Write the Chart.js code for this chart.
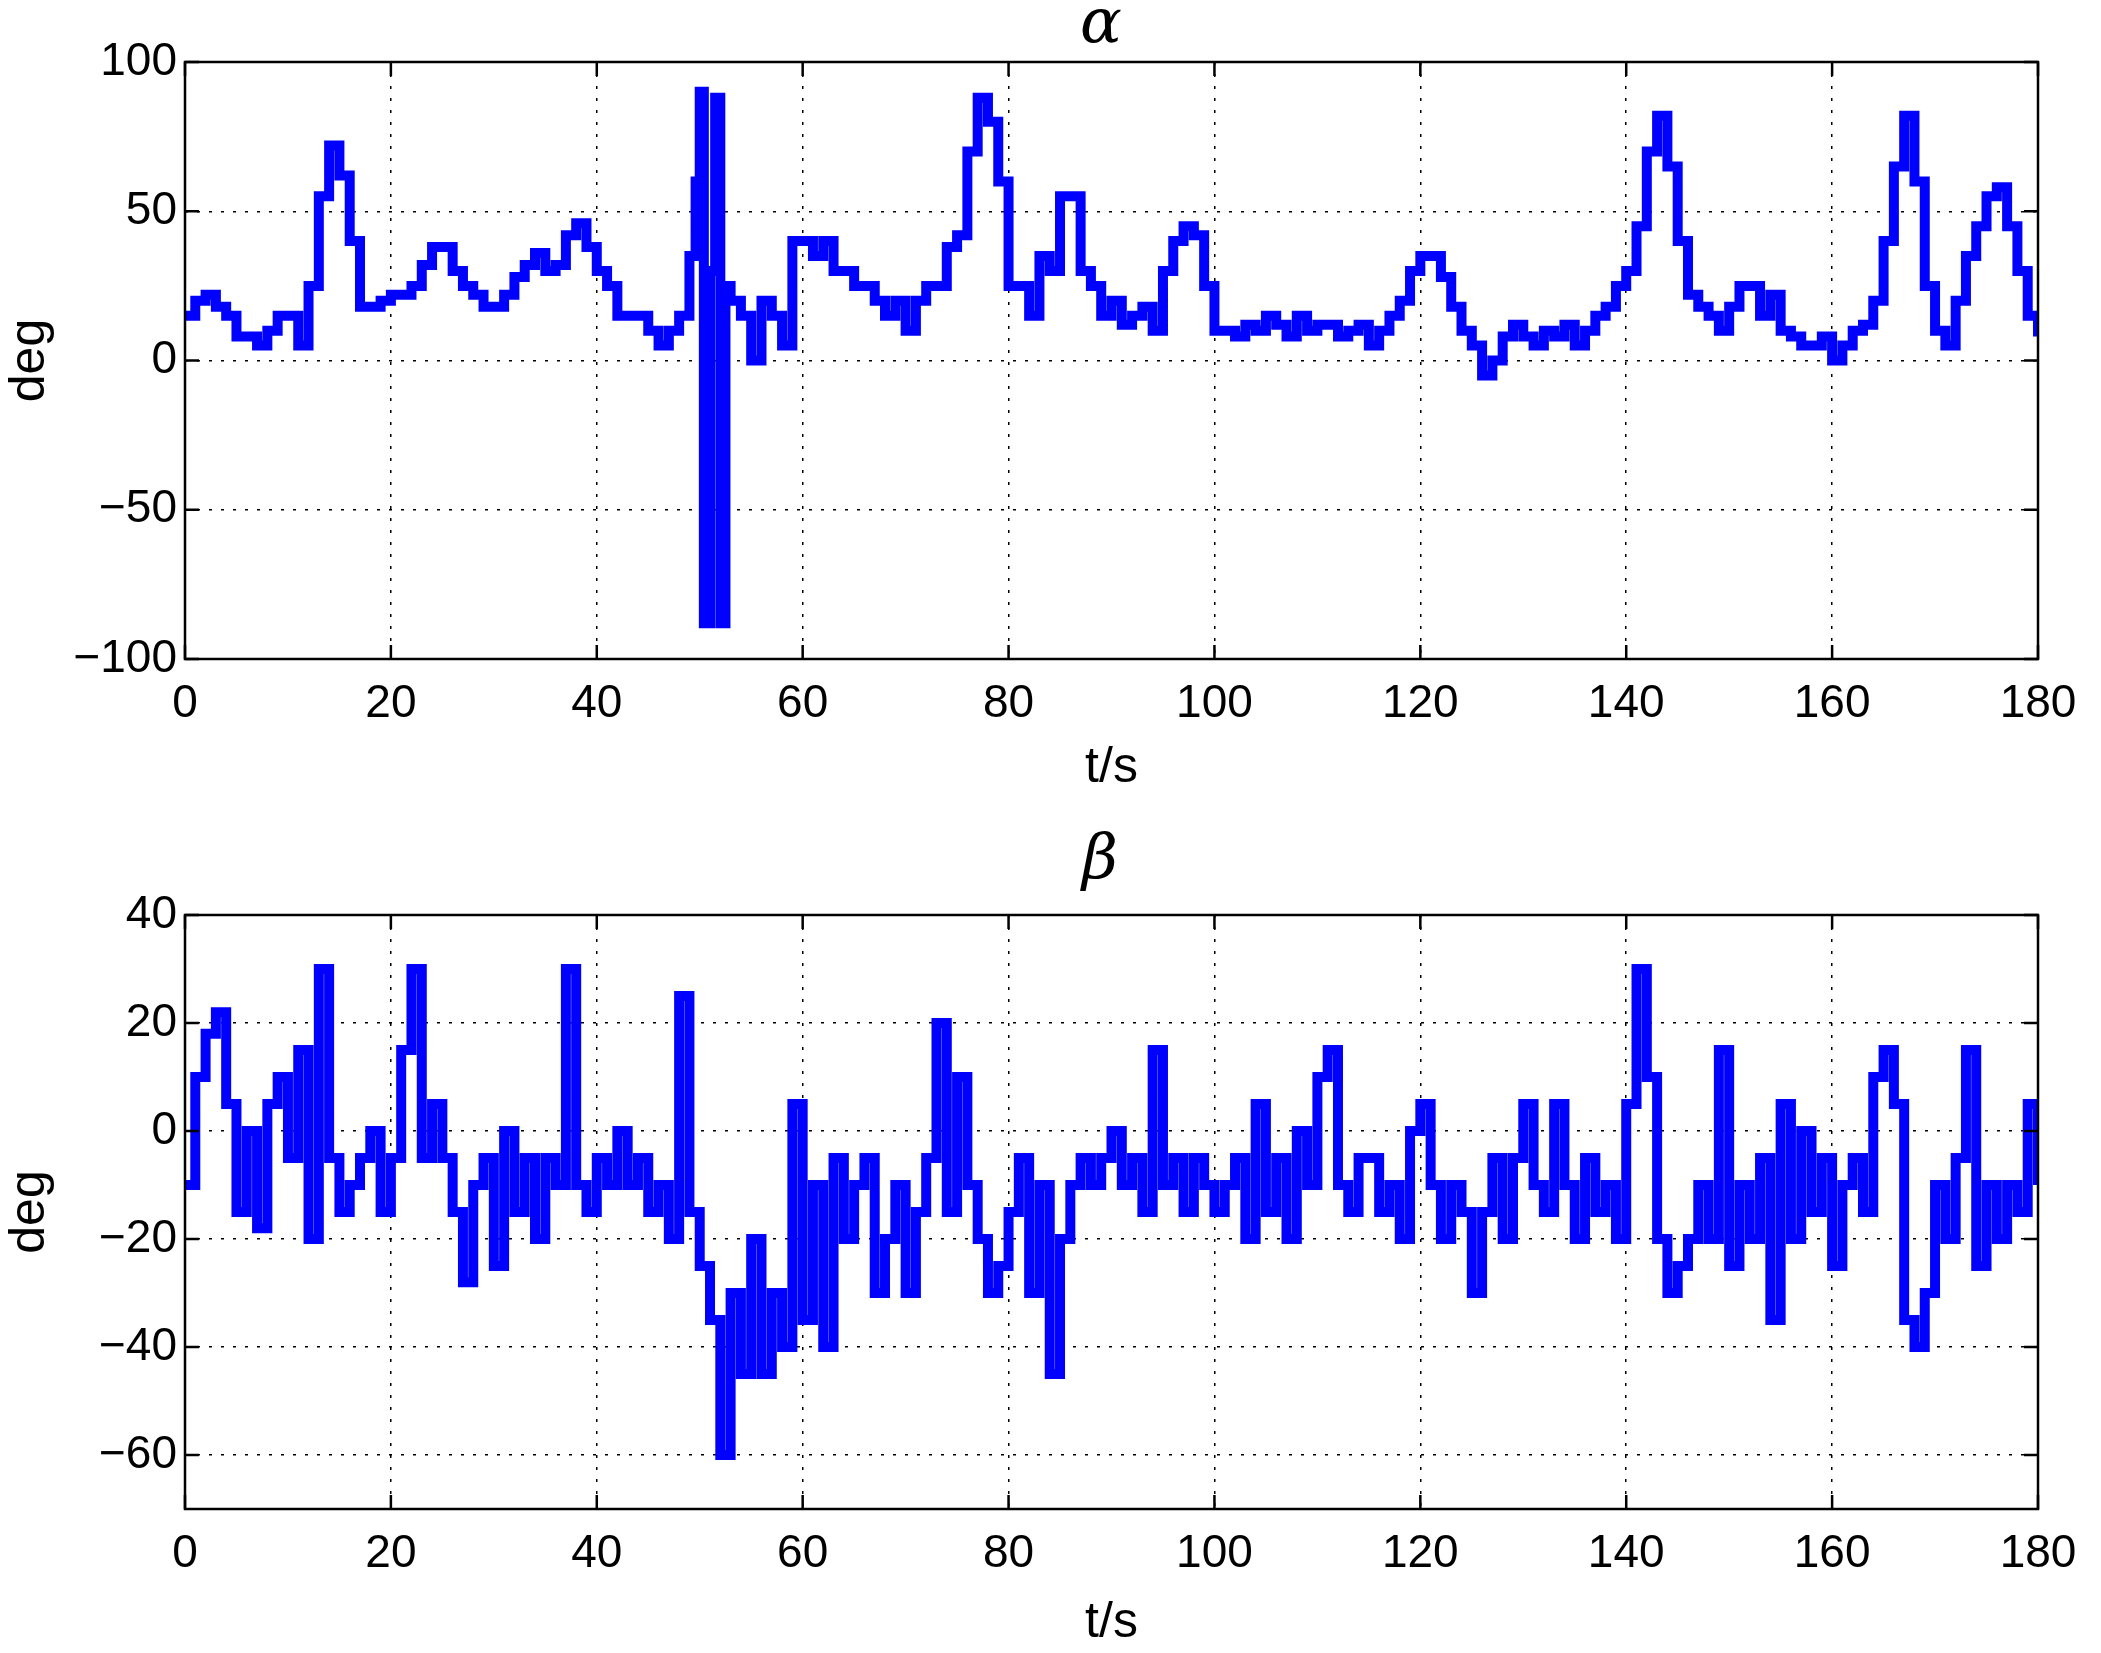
<!DOCTYPE html>
<html><head><meta charset="utf-8">
<script src="https://cdn.jsdelivr.net/npm/chart.js@4/dist/chart.umd.min.js"></script>
<style>
body{margin:0;background:#fff;width:2101px;height:1653px;position:relative;overflow:hidden}
canvas{position:absolute;left:0}
.t{position:absolute;font-family:"DejaVu Serif",serif;font-style:italic;font-size:62px;color:#000}
</style></head><body>
<canvas id="c1" style="top:0" width="2101" height="826"></canvas>
<canvas id="c2" style="top:826px" width="2101" height="827"></canvas>
<div class="t" style="left:1080px;top:-16px">α</div>
<div class="t" style="left:1082px;top:820px">β</div>
<script>
const tAlpha=[0,1,2,3,4,5,6,7,8,9,10,11,12,13,14,15,16,17,18,19,20,21,22,23,24,25,26,27,28,29,30,31,32,33,34,35,36,37,38,39,40,41,42,43,44,45,46,47,48,49,49.6,50,50.4,51,51.5,52,52.5,53,54,55,56,57,58,59,60,61,62,63,64,65,66,67,68,69,70,71,72,73,74,75,76,77,78,79,80,81,82,83,84,85,86,87,88,89,90,91,92,93,94,95,96,97,98,99,100,101,102,103,104,105,106,107,108,109,110,111,112,113,114,115,116,117,118,119,120,121,122,123,124,125,126,127,128,129,130,131,132,133,134,135,136,137,138,139,140,141,142,143,144,145,146,147,148,149,150,151,152,153,154,155,156,157,158,159,160,161,162,163,164,165,166,167,168,169,170,171,172,173,174,175,176,177,178,179,180];
const alpha=[15,20,22,18,15,8,8,5,10,15,15,5,25,55,72,62,40,18,18,20,22,22,25,32,38,38,30,25,22,18,18,22,28,32,36,30,32,42,46,38,30,25,15,15,15,10,5,10,15,35,60,90,-88,30,88,-88,25,20,15,0,20,15,5,40,40,35,40,30,30,25,25,20,15,20,10,20,25,25,38,42,70,88,80,60,25,25,15,35,30,55,55,30,25,15,20,12,15,18,10,30,40,45,42,25,10,10,8,12,10,15,12,8,15,10,12,12,8,10,12,5,10,15,20,30,35,35,28,18,10,5,-5,0,8,12,8,5,10,8,12,5,10,15,18,25,30,45,70,82,65,40,22,18,15,10,18,25,25,15,22,10,8,5,5,8,0,5,10,12,20,40,65,82,60,25,10,5,20,35,45,55,58,45,30,15,8];
const tBeta=Array.from({length:181},(_,i)=>i);
const beta=[-10,10,18,22,5,-15,0,-18,5,10,-5,15,-20,30,-5,-15,-10,-5,0,-15,-5,15,30,-5,5,-5,-15,-28,-10,-5,-25,0,-15,-5,-20,-5,-10,30,-10,-15,-5,-10,0,-10,-5,-15,-10,-20,25,-15,-25,-35,-60,-30,-45,-20,-45,-30,-40,5,-35,-10,-40,-5,-20,-10,-5,-30,-20,-10,-30,-15,-5,20,-15,10,-10,-20,-30,-25,-15,-5,-30,-10,-45,-20,-10,-5,-10,-5,0,-10,-5,-15,15,-10,-5,-15,-5,-10,-15,-10,-5,-20,5,-15,-5,-20,0,-10,10,15,-10,-15,-5,-5,-15,-10,-20,0,5,-10,-20,-10,-15,-30,-15,-5,-20,-5,5,-10,-15,5,-10,-20,-5,-15,-10,-20,5,30,10,-20,-30,-25,-20,-10,-20,15,-25,-10,-20,-5,-35,5,-20,0,-15,-5,-25,-10,-5,-15,10,15,5,-35,-40,-30,-10,-20,-5,15,-25,-10,-20,-10,-15,5,-10];
const xTicks=[0,20,40,60,80,100,120,140,160,180];
const yTicksAlpha=[-100,-50,0,50,100];
const yTicksBeta=[-60,-40,-20,0,20,40];
const F="'Liberation Sans',Arial,sans-serif";
const border={id:'b',afterDraw(c){const a=c.chartArea,x=c.ctx;x.save();x.strokeStyle='#000';x.lineWidth=2.5;x.strokeRect(a.left,a.top,a.right-a.left,a.bottom-a.top);
 x.beginPath();const sx=c.scales.x,sy=c.scales.y;
 sx.ticks.forEach(t=>{const p=sx.getPixelForValue(t.value);x.moveTo(p,a.bottom);x.lineTo(p,a.bottom-14);x.moveTo(p,a.top);x.lineTo(p,a.top+14);});
 sy.ticks.forEach(t=>{const p=sy.getPixelForValue(t.value);x.moveTo(a.left,p);x.lineTo(a.left+14,p);x.moveTo(a.right,p);x.lineTo(a.right-14,p);});
 x.stroke();x.restore();}};
function mk(id,tx,ty,ymin,ymax,yt,padTop,xh,tb){
 new Chart(document.getElementById(id),{type:'line',
 data:{datasets:[{data:tx.map((t,i)=>({x:t,y:ty[i]})),borderColor:'#0000ff',borderWidth:10,pointRadius:0,stepped:true,borderJoinStyle:'miter'}]},
 options:{responsive:false,animation:false,layout:{padding:{top:padTop,right:63,left:0,bottom:0}},
 plugins:{legend:{display:false},tooltip:{enabled:false}},
 scales:{x:{type:'linear',min:0,max:180,afterBuildTicks:s=>{s.ticks=xTicks.map(v=>({value:v}))},
   grid:{color:'#000',lineWidth:1.5,drawTicks:false},border:{display:false,dash:[3,9]},
   ticks:{font:{family:F,size:46},color:'#000',padding:18,maxRotation:0},
   title:{display:true,text:'t/s',font:{family:F,size:50},color:'#000',padding:{top:0,bottom:tb}},
   afterFit:s=>{s.height=xh}},
  y:{min:ymin,max:ymax,afterBuildTicks:s=>{s.ticks=yt.map(v=>({value:v}))},ticks:{font:{family:F,size:46},color:'#000',padding:8,callback:v=>String(v).replace('-','−')},
   grid:{color:'#000',lineWidth:1.5,drawTicks:false},border:{display:false,dash:[3,9]},
   title:{display:true,text:'deg',font:{family:F,size:50},color:'#000',padding:0},
   afterFit:s=>{s.width=185}}}},plugins:[border]});
}
mk('c1',tAlpha,alpha,-100,100,yTicksAlpha,62,167,28);
mk('c2',tBeta,beta,-70,40,yTicksBeta,89,144,0);
</script></body></html>
